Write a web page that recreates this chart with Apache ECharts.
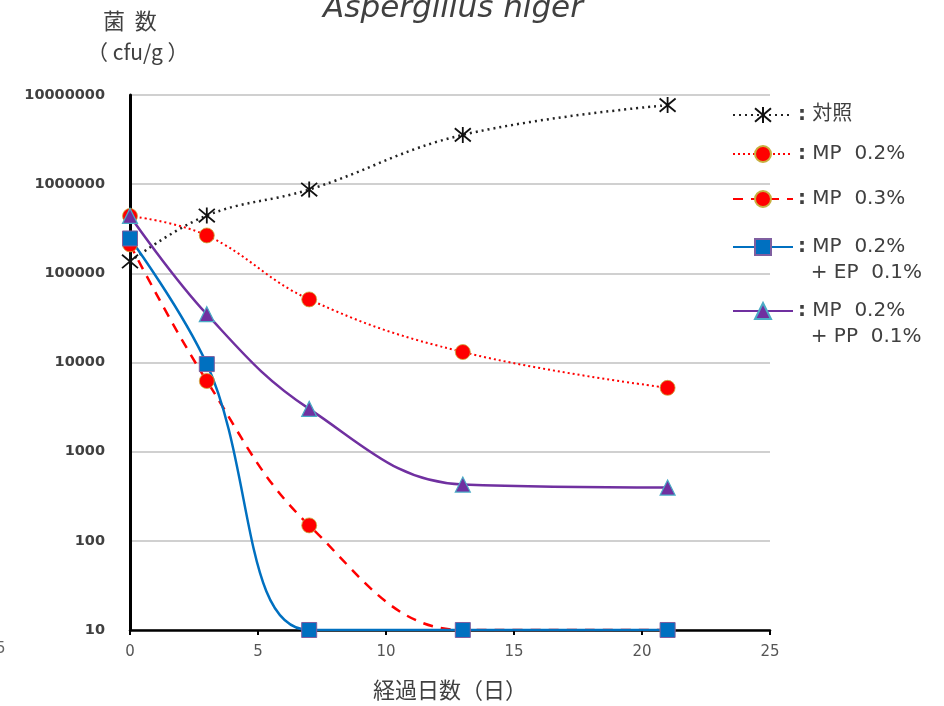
<!DOCTYPE html>
<html><head><meta charset="utf-8">
<script src="https://cdn.jsdelivr.net/npm/echarts@6/dist/echarts.min.js"></script>
<style>html,body{margin:0;padding:0;background:#fff}#c{width:944px;height:706px}</style>
</head><body><div id="c"></div>
<script>
const days = [0, 3, 7, 13, 21];
const seriesNames = ['対照', 'MP 0.2%', 'MP 0.3%', 'MP 0.2% + EP 0.1%', 'MP 0.2% + PP 0.1%'];
const legendLabels = [': 対照', ': MP  0.2%', ': MP  0.3%', ': MP  0.2%\n  + EP  0.1%', ': MP  0.2%\n  + PP  0.1%'];
const control = [136000, 445000, 870000, 3570000, 7700000];
const mp02 = [440000, 266000, 51000, 13100, 5200];
const mp03 = [211000, 6200, 149, 10, 10];
const mp02ep01 = [246000, 9600, 10, 10, 10];
const mp02pp01 = [440000, 34800, 3020, 428, 396];
const yTicks = [10, 100, 1000, 10000, 100000, 1000000, 10000000];
const xTicks = [0, 5, 10, 15, 20, 25];

const pair = arr => days.map((d, i) => [d, arr[i]]);
const FONT = '"DejaVu Sans", "Noto Sans CJK JP", sans-serif';
const star = 'path://M0,0L10,10M10,0L0,10M5,-1L5,11';

const chart = echarts.init(document.getElementById('c'));
const legendCenters = [115, 154, 199, 247, 311];
const legends = seriesNames.map((n, i) => {
  const multi = legendLabels[i].includes('\n');
  return {
    data: [n], left: 732, top: legendCenters[i] - (multi ? 39 : 13), orient: 'vertical', padding: 0,
    itemWidth: 60, itemHeight: 20, itemGap: 0, selectedMode: false,
    formatter: () => legendLabels[i].replace(/^:/, '{c|:}'),
    textStyle: {
      fontFamily: FONT, fontSize: 20, color: '#404040', lineHeight: 26,
      padding: multi ? [26, 0, 0, 0] : 0,
      rich: { c: { fontWeight: 'bold', fontSize: 20, color: '#404040', fontFamily: FONT, lineHeight: 26 } }
    }
  };
});

chart.setOption({
  animation: false,
  title: {
    text: 'Aspergillus niger', left: 448, textAlign: 'center', top: -12,
    textStyle: { fontFamily: FONT, fontStyle: 'italic', fontWeight: 'normal', fontSize: 31, color: '#404040' }
  },
  legend: legends,
  grid: { left: 130, right: 174, top: 95, bottom: 74 },
  xAxis: {
    type: 'value', min: 0, max: 25, interval: 5,
    name: '経過日数（日）', nameLocation: 'middle', nameGap: 49,
    nameTextStyle: { fontFamily: '"Noto Sans CJK JP", sans-serif', fontSize: 22, color: '#404040' },
    axisLine: { lineStyle: { color: '#000', width: 2.5 } },
    axisTick: { show: true, length: 5, lineStyle: { color: '#000', width: 2 } },
    axisLabel: { fontFamily: FONT, fontSize: 15, color: '#555', margin: 15 },
    splitLine: { show: false }
  },
  yAxis: {
    type: 'log', logBase: 10, min: 10, max: 10000000,
    axisLine: { show: true, lineStyle: { color: '#000', width: 3 } },
    axisTick: { show: false },
    axisLabel: { fontFamily: FONT, fontSize: 14.5, fontWeight: 'bold', color: '#404040', margin: 25, formatter: v => String(Math.round(v)) },
    splitLine: { lineStyle: { color: '#c0c0c0', width: 1.5 } }
  },
  graphic: [
    { type: 'text', left: 103, top: 10, style: { text: '菌  数', font: '22px "Noto Sans CJK JP"', fill: '#404040' } },
    { type: 'text', left: 87, top: 42, style: { text: '（ cfu/g ）', font: '21px "Noto Sans CJK JP"', fill: '#404040' } },
    { type: 'text', left: -4, top: 642, style: { text: '5', font: '15px "DejaVu Sans"', fill: '#666' } }
  ],
  series: [
    { name: seriesNames[0], type: 'line', data: pair(control), smooth: 0.4,
      lineStyle: { color: '#222', width: 2.5, type: [2, 4] },
      symbol: star, symbolSize: 16,
      itemStyle: { color: 'rgba(0,0,0,0)', borderColor: '#111', borderWidth: 1.8 } },
    { name: seriesNames[1], type: 'line', data: pair(mp02), smooth: 0.4,
      lineStyle: { color: '#ff0000', width: 2, type: [2, 3] },
      symbol: 'circle', symbolSize: 15,
      itemStyle: { color: '#ff0000', borderColor: '#c8b040', borderWidth: 0.8 } },
    { name: seriesNames[2], type: 'line', data: pair(mp03), smooth: 0.4,
      lineStyle: { color: '#ff0000', width: 2.5, type: [10, 8] },
      symbol: 'circle', symbolSize: 15,
      itemStyle: { color: '#ff0000', borderColor: '#c8b040', borderWidth: 0.8 } },
    { name: seriesNames[3], type: 'line', data: pair(mp02ep01), smooth: 0.4,
      lineStyle: { color: '#0070c0', width: 2.5 },
      symbol: 'rect', symbolSize: 15,
      itemStyle: { color: '#0070c0', borderColor: '#7f5fa0', borderWidth: 1 } },
    { name: seriesNames[4], type: 'line', data: pair(mp02pp01), smooth: 0.4,
      lineStyle: { color: '#7030a0', width: 2.5 },
      symbol: 'triangle', symbolSize: 15,
      itemStyle: { color: '#7030a0', borderColor: '#4bacc6', borderWidth: 1.2 } }
  ]
});
</script></body></html>
